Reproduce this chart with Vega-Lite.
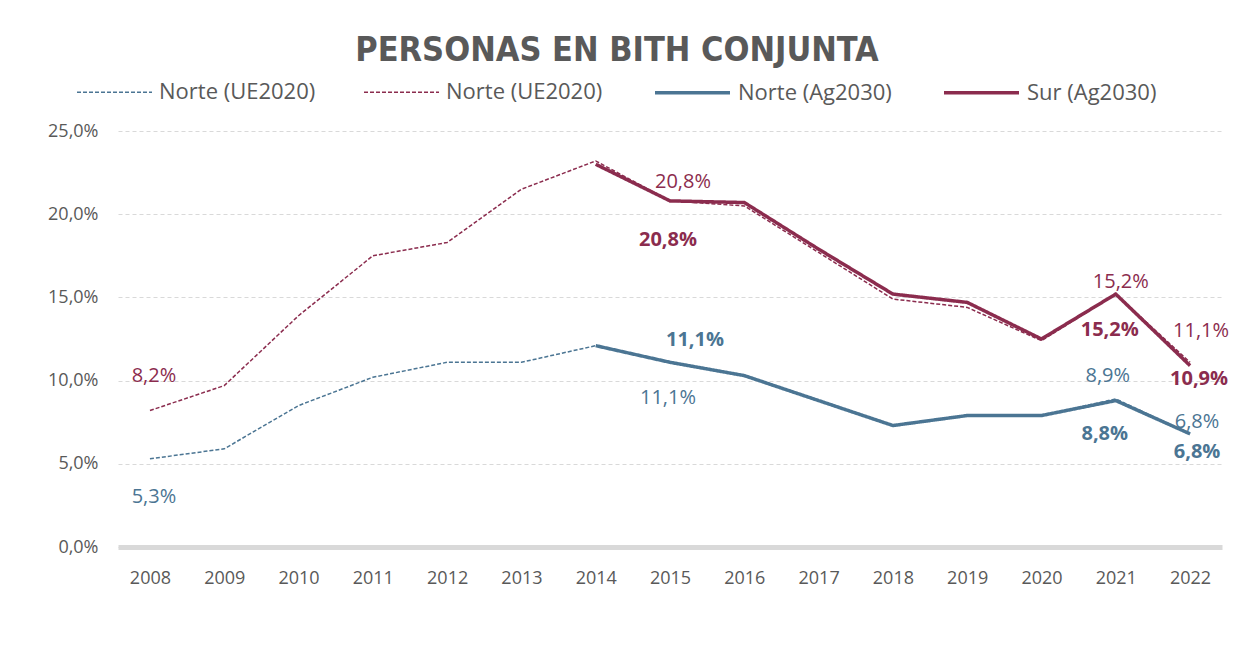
{
  "$schema": "https://vega.github.io/schema/vega-lite/v6.json",
  "width": 1104,
  "height": 416,
  "autosize": {"type": "none"},
  "padding": {"left": 118, "top": 131, "right": 14, "bottom": 119},
  "background": "white",
  "title": {
    "text": "PERSONAS EN BITH CONJUNTA",
    "fontSize": 34,
    "fontWeight": "bold",
    "color": "#595959",
    "font": "Liberation Sans Narrow, DejaVu Sans Condensed",
    "anchor": "middle",
    "dx": -53,
    "offset": -15
  },
  "data": {
    "values": [
      {"s": "Norte (UE2020)", "year": 2008, "v": 0.053},
      {"s": "Norte (UE2020)", "year": 2009, "v": 0.059},
      {"s": "Norte (UE2020)", "year": 2010, "v": 0.085},
      {"s": "Norte (UE2020)", "year": 2011, "v": 0.102},
      {"s": "Norte (UE2020)", "year": 2012, "v": 0.111},
      {"s": "Norte (UE2020)", "year": 2013, "v": 0.111},
      {"s": "Norte (UE2020)", "year": 2014, "v": 0.121},
      {"s": "Norte (UE2020)", "year": 2015, "v": 0.111},
      {"s": "Norte (UE2020)", "year": 2016, "v": 0.103},
      {"s": "Norte (UE2020)", "year": 2017, "v": 0.088},
      {"s": "Norte (UE2020)", "year": 2018, "v": 0.073},
      {"s": "Norte (UE2020)", "year": 2019, "v": 0.079},
      {"s": "Norte (UE2020)", "year": 2020, "v": 0.079},
      {"s": "Norte (UE2020)", "year": 2021, "v": 0.089},
      {"s": "Norte (UE2020)", "year": 2022, "v": 0.068},
      {"s": "Sur (UE2020)", "year": 2008, "v": 0.082},
      {"s": "Sur (UE2020)", "year": 2009, "v": 0.097},
      {"s": "Sur (UE2020)", "year": 2010, "v": 0.139},
      {"s": "Sur (UE2020)", "year": 2011, "v": 0.175},
      {"s": "Sur (UE2020)", "year": 2012, "v": 0.183},
      {"s": "Sur (UE2020)", "year": 2013, "v": 0.215},
      {"s": "Sur (UE2020)", "year": 2014, "v": 0.232},
      {"s": "Sur (UE2020)", "year": 2015, "v": 0.208},
      {"s": "Sur (UE2020)", "year": 2016, "v": 0.205},
      {"s": "Sur (UE2020)", "year": 2017, "v": 0.177},
      {"s": "Sur (UE2020)", "year": 2018, "v": 0.149},
      {"s": "Sur (UE2020)", "year": 2019, "v": 0.144},
      {"s": "Sur (UE2020)", "year": 2020, "v": 0.124},
      {"s": "Sur (UE2020)", "year": 2021, "v": 0.152},
      {"s": "Sur (UE2020)", "year": 2022, "v": 0.111},
      {"s": "Norte (Ag2030)", "year": 2014, "v": 0.121},
      {"s": "Norte (Ag2030)", "year": 2015, "v": 0.111},
      {"s": "Norte (Ag2030)", "year": 2016, "v": 0.103},
      {"s": "Norte (Ag2030)", "year": 2017, "v": 0.088},
      {"s": "Norte (Ag2030)", "year": 2018, "v": 0.073},
      {"s": "Norte (Ag2030)", "year": 2019, "v": 0.079},
      {"s": "Norte (Ag2030)", "year": 2020, "v": 0.079},
      {"s": "Norte (Ag2030)", "year": 2021, "v": 0.088},
      {"s": "Norte (Ag2030)", "year": 2022, "v": 0.068},
      {"s": "Sur (Ag2030)", "year": 2014, "v": 0.230},
      {"s": "Sur (Ag2030)", "year": 2015, "v": 0.208},
      {"s": "Sur (Ag2030)", "year": 2016, "v": 0.207},
      {"s": "Sur (Ag2030)", "year": 2017, "v": 0.179},
      {"s": "Sur (Ag2030)", "year": 2018, "v": 0.152},
      {"s": "Sur (Ag2030)", "year": 2019, "v": 0.147},
      {"s": "Sur (Ag2030)", "year": 2020, "v": 0.125},
      {"s": "Sur (Ag2030)", "year": 2021, "v": 0.152},
      {"s": "Sur (Ag2030)", "year": 2022, "v": 0.109}
    ]
  },
  "encoding": {
    "x": {
      "field": "year",
      "type": "ordinal",
      "scale": {"type": "point", "padding": 0.43},
      "axis": {
        "title": null,
        "labelAngle": 0,
        "ticks": false,
        "domainColor": "#d9d9d9",
        "domainWidth": 5,
        "labelPadding": 22,
        "labelFontSize": 18,
        "labelColor": "#595959",
        "grid": false
      }
    },
    "y": {
      "field": "v",
      "type": "quantitative",
      "scale": {"domain": [0, 0.25]},
      "axis": {
        "title": null,
        "format": ".1%",
        "values": [0, 0.05, 0.1, 0.15, 0.2, 0.25],
        "domain": false,
        "ticks": false,
        "labelPadding": 20,
        "labelFontSize": 18,
        "labelColor": "#595959",
        "gridColor": "#d9d9d9",
        "gridDash": [4, 3],
        "gridWidth": 1
      }
    }
  },
  "layer": [
    {
      "mark": {"type": "line"},
      "encoding": {
        "color": {
          "field": "s",
          "type": "nominal",
          "scale": {
            "domain": ["Norte (UE2020)", "Sur (UE2020)", "Norte (Ag2030)", "Sur (Ag2030)"],
            "range": ["#4b7593", "#8b2c4e", "#4b7593", "#8b2c4e"]
          },
          "legend": {
            "title": null,
            "orient": "none",
            "legendX": -42,
            "legendY": -78,
            "direction": "horizontal",
            "symbolType": "stroke",
            "symbolSize": 5625,
            "labelFontSize": 22,
            "labelColor": "#595959",
            "labelOffset": 6,
            "labelLimit": 300,
            "columnPadding": 45,
            "labelExpr": "datum.label == 'Sur (UE2020)' ? 'Norte (UE2020)' : datum.label"
          }
        },
        "strokeDash": {
          "field": "s",
          "type": "nominal",
          "scale": {
            "domain": ["Norte (UE2020)", "Sur (UE2020)", "Norte (Ag2030)", "Sur (Ag2030)"],
            "range": [[4, 2], [4, 2], [1, 0], [1, 0]]
          }
        },
        "strokeWidth": {
          "field": "s",
          "type": "nominal",
          "scale": {
            "type": "ordinal",
            "domain": ["Norte (UE2020)", "Sur (UE2020)", "Norte (Ag2030)", "Sur (Ag2030)"],
            "range": [1.5, 1.5, 3.5, 3.5]
          }
        }
      }
    },
    {"transform": [{"filter": "datum.s == 'Sur (UE2020)' && datum.year == 2008"}], "mark": {"type": "text", "dx": 4, "dy": -35, "color": "#8b2c4e", "fontSize": 20}, "encoding": {"text": {"field": "v", "type": "quantitative", "format": ".1%"}}},
    {"transform": [{"filter": "datum.s == 'Norte (UE2020)' && datum.year == 2008"}], "mark": {"type": "text", "dx": 4, "dy": 38, "color": "#4b7593", "fontSize": 20}, "encoding": {"text": {"field": "v", "type": "quantitative", "format": ".1%"}}},
    {"transform": [{"filter": "datum.s == 'Sur (UE2020)' && datum.year == 2015"}], "mark": {"type": "text", "dx": 13, "dy": -19, "color": "#8b2c4e", "fontSize": 20}, "encoding": {"text": {"field": "v", "type": "quantitative", "format": ".1%"}}},
    {"transform": [{"filter": "datum.s == 'Sur (Ag2030)' && datum.year == 2015"}], "mark": {"type": "text", "dx": -2, "dy": 39, "color": "#8b2c4e", "fontSize": 20, "fontWeight": "bold"}, "encoding": {"text": {"field": "v", "type": "quantitative", "format": ".1%"}}},
    {"transform": [{"filter": "datum.s == 'Norte (Ag2030)' && datum.year == 2015"}], "mark": {"type": "text", "dx": 25, "dy": -22, "color": "#4b7593", "fontSize": 20, "fontWeight": "bold"}, "encoding": {"text": {"field": "v", "type": "quantitative", "format": ".1%"}}},
    {"transform": [{"filter": "datum.s == 'Norte (UE2020)' && datum.year == 2015"}], "mark": {"type": "text", "dx": -2, "dy": 36, "color": "#4b7593", "fontSize": 20}, "encoding": {"text": {"field": "v", "type": "quantitative", "format": ".1%"}}},
    {"transform": [{"filter": "datum.s == 'Sur (UE2020)' && datum.year == 2021"}], "mark": {"type": "text", "dx": 5, "dy": -12, "color": "#8b2c4e", "fontSize": 20}, "encoding": {"text": {"field": "v", "type": "quantitative", "format": ".1%"}}},
    {"transform": [{"filter": "datum.s == 'Sur (Ag2030)' && datum.year == 2021"}], "mark": {"type": "text", "dx": -6, "dy": 36, "color": "#8b2c4e", "fontSize": 20, "fontWeight": "bold"}, "encoding": {"text": {"field": "v", "type": "quantitative", "format": ".1%"}}},
    {"transform": [{"filter": "datum.s == 'Sur (UE2020)' && datum.year == 2022"}], "mark": {"type": "text", "dx": 11, "dy": -31, "color": "#8b2c4e", "fontSize": 20}, "encoding": {"text": {"field": "v", "type": "quantitative", "format": ".1%"}}},
    {"transform": [{"filter": "datum.s == 'Sur (Ag2030)' && datum.year == 2022"}], "mark": {"type": "text", "dx": 9, "dy": 13, "color": "#8b2c4e", "fontSize": 20, "fontWeight": "bold"}, "encoding": {"text": {"field": "v", "type": "quantitative", "format": ".1%"}}},
    {"transform": [{"filter": "datum.s == 'Norte (UE2020)' && datum.year == 2021"}], "mark": {"type": "text", "dx": -8, "dy": -23, "color": "#4b7593", "fontSize": 20}, "encoding": {"text": {"field": "v", "type": "quantitative", "format": ".1%"}}},
    {"transform": [{"filter": "datum.s == 'Norte (Ag2030)' && datum.year == 2021"}], "mark": {"type": "text", "dx": -11, "dy": 33, "color": "#4b7593", "fontSize": 20, "fontWeight": "bold"}, "encoding": {"text": {"field": "v", "type": "quantitative", "format": ".1%"}}},
    {"transform": [{"filter": "datum.s == 'Norte (UE2020)' && datum.year == 2022"}], "mark": {"type": "text", "dx": 7, "dy": -12, "color": "#4b7593", "fontSize": 20}, "encoding": {"text": {"field": "v", "type": "quantitative", "format": ".1%"}}},
    {"transform": [{"filter": "datum.s == 'Norte (Ag2030)' && datum.year == 2022"}], "mark": {"type": "text", "dx": 7, "dy": 18, "color": "#4b7593", "fontSize": 20, "fontWeight": "bold"}, "encoding": {"text": {"field": "v", "type": "quantitative", "format": ".1%"}}}
  ],
  "config": {
    "font": "Open Sans",
    "view": {"stroke": null},
    "locale": {
      "number": {"decimal": ",", "thousands": ".", "grouping": [3], "currency": ["", " €"]}
    }
  }
}
